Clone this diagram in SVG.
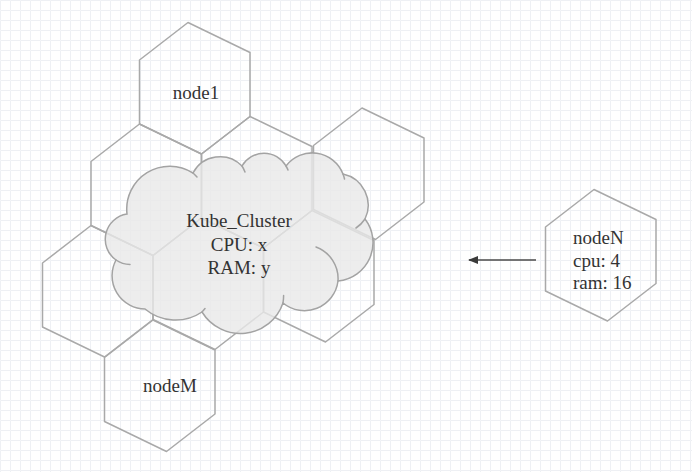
<svg xmlns="http://www.w3.org/2000/svg" xmlns:xlink="http://www.w3.org/1999/xlink" width="692" height="472" viewBox="0 0 692 472">
  <style>
    .hex { fill: none; stroke: #a9a9a9; stroke-width: 1.5; stroke-linejoin: round; }
    .cloud { fill: #e8e8e8; fill-opacity: 0.8; stroke: #a3a3a3; stroke-width: 1.5; }
    .curl { fill: none; stroke: #a3a3a3; stroke-width: 1.5; stroke-linecap: round; }
    .lbl { font-family: "Liberation Serif", "DejaVu Serif", serif; font-size: 19px; fill: #333333; }
    .mid { text-anchor: middle; }
    .edge { stroke: #4a4a4a; stroke-width: 1.5; fill: none; }
  </style>
  <defs>
    <pattern id="grid" width="10" height="10" patternUnits="userSpaceOnUse">
      <path d="M10,0.5 L0.5,0.5 L0.5,10" fill="none" stroke="#eef0f4" stroke-width="1"/>
    </pattern>
    <path id="hexShape" d="M0,0 L62,30 L62,94 L13.5,131.5 L-48.5,101.5 L-48.5,37.5 Z"/>
    <marker id="arrow" viewBox="0 0 10 8" refX="9" refY="4" markerWidth="10" markerHeight="8" markerUnits="userSpaceOnUse" orient="auto">
      <path d="M0,0 L10,4 L0,8 Z" fill="#3a3a3a"/>
    </marker>
  </defs>

  <rect width="692" height="472" fill="#ffffff"/>
  <rect width="692" height="472" fill="url(#grid)"/>

  <g id="hex-node1"><use xlink:href="#hexShape" href="#hexShape" class="hex" x="188" y="22.5"/></g>
  <g id="hex-left-upper"><use xlink:href="#hexShape" href="#hexShape" class="hex" x="139.5" y="124"/></g>
  <g id="hex-mid-upper"><use xlink:href="#hexShape" href="#hexShape" class="hex" x="250" y="116.5"/></g>
  <g id="hex-right-upper"><use xlink:href="#hexShape" href="#hexShape" class="hex" x="362" y="108"/></g>
  <g id="hex-center"><use xlink:href="#hexShape" href="#hexShape" class="hex" x="201.5" y="218"/></g>
  <g id="hex-right-lower"><use xlink:href="#hexShape" href="#hexShape" class="hex" x="312" y="210.5"/></g>
  <g id="hex-left-lower"><use xlink:href="#hexShape" href="#hexShape" class="hex" x="91" y="225.5"/></g>
  <g id="hex-nodeM"><use xlink:href="#hexShape" href="#hexShape" class="hex" x="153" y="320"/></g>

  <g id="kube-cluster">
    <path class="cloud" d="M127,214 A43 43 0 0 1 193,173 A30.7 30.7 0 0 1 242,166 A25.4 25.4 0 0 1 286,166 A32.9 32.9 0 0 1 343,174 A31.9 31.9 0 0 1 365,219 A38.6 38.6 0 0 1 338,281 A33.8 33.8 0 0 1 283,303 A45 45 0 0 1 202,312 A47.5 47.5 0 0 1 145,309 A33.3 33.3 0 0 1 116,260 A25.5 25.5 0 0 1 127,214 Z"/>
    <path class="curl" d="M193,173 A43 43 0 0 1 197,177 M242,166 A30.7 30.7 0 0 1 245,172 M286,166 A25.4 25.4 0 0 1 288,170 M343,174 A32.9 32.9 0 0 1 344.5,179 M365,219 A31.9 31.9 0 0 1 356,228 M316,247 A33.8 33.8 0 0 1 338,281 M283.6,295.5 A45 45 0 0 1 283,303 M205,308.5 A47.5 47.5 0 0 1 202,312 M130,264.5 A25.5 25.5 0 0 1 116,260"/>
    <text class="lbl mid" x="239" y="227">Kube_Cluster</text>
    <text class="lbl mid" x="239" y="250.5">CPU: x</text>
    <text class="lbl mid" x="239" y="274">RAM: y</text>
  </g>

  <g id="node1"><text class="lbl mid" x="196" y="99">node1</text></g>
  <g id="nodeM"><text class="lbl mid" x="170" y="392">nodeM</text></g>

  <g id="nodeN">
    <use xlink:href="#hexShape" href="#hexShape" class="hex" x="594" y="189.5"/>
    <text class="lbl" x="573" y="244">nodeN</text>
    <text class="lbl" x="573" y="266.5">cpu: 4</text>
    <text class="lbl" x="573" y="289">ram: 16</text>
  </g>

  <g id="connectors">
    <line class="edge" x1="536" y1="260" x2="469" y2="260" marker-end="url(#arrow)"/>
  </g>
</svg>
